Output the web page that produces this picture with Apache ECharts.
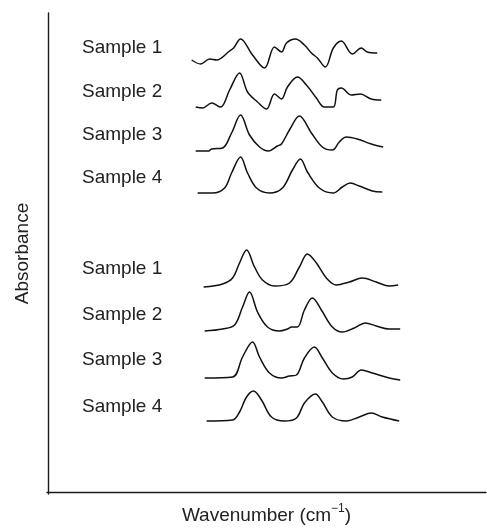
<!DOCTYPE html>
<html>
<head>
<meta charset="utf-8">
<script src="https://cdn.jsdelivr.net/npm/echarts@6/dist/echarts.min.js"></script>
<style>html,body{margin:0;padding:0;background:#fff;}#c{width:487px;height:529px;}</style>
</head>
<body>
<div id="c"></div>
<script>
// Labels
const sampleLabels = ['Sample 1','Sample 2','Sample 3','Sample 4','Sample 1','Sample 2','Sample 3','Sample 4'];
const xAxisTitle = 'Wavenumber (cm';
const yAxisTitle = 'Absorbance';

// Spectra: [wavenumber position, absorbance + offset] (arbitrary units)
const topSample1 = [[144,432],[153,428],[162,433],[169,432],[182,441],[186,444],[193,453],[205,437],[217,424],[227,445],[234,440],[239,449],[248,453],[257,447],[264,439],[270,434],[278,425],[286,444],[294,451],[305,438],[314,444],[320,440],[330,439]];
const topSample2 = [[148,385],[155,384],[164,389],[173,385],[182,402],[192,419],[200,400],[210,390],[219,383],[227,398],[234,393],[240,405],[250,415],[259,407],[269,394],[277,385],[286,385],[290,402],[294,404],[304,397],[313,398],[324,393],[334,392]];
const topSample3 = [[148,341],[161,341],[164,343],[175,344],[184,359],[193,377],[202,357],[212,345],[221,341],[230,346],[234,348],[242,362],[252,376],[264,359],[275,345],[285,342],[292,350],[299,355],[310,353],[324,348],[336,345]];
const topSample4 = [[150,299],[165,299],[177,304],[184,319],[193,335],[200,319],[209,304],[222,299],[235,304],[245,322],[253,333],[260,320],[272,304],[286,299],[295,305],[303,309],[312,306],[325,301],[335,300]];
const botSample1 = [[156,205],[175,208],[185,214],[192,229],[199,242],[207,225],[215,212],[227,206],[242,209],[252,225],[260,238],[269,229],[279,214],[289,207],[302,210],[315,214],[329,210],[342,206],[351,207]];
const botSample2 = [[157,161],[175,163],[187,167],[195,185],[202,200],[210,180],[220,165],[232,161],[240,163],[244,165],[250,165],[257,182],[265,194],[274,182],[285,165],[295,160],[307,164],[318,169],[329,166],[342,163],[353,163]];
const botSample3 = [[157,114],[185,115],[195,135],[205,150],[212,135],[222,119],[234,114],[242,116],[249,117],[257,134],[267,145],[275,134],[285,119],[296,113],[305,115],[314,122],[325,119],[342,114],[353,112]];
const botSample4 = [[159,71],[185,72],[192,80],[199,95],[206,101],[214,92],[224,75],[237,71],[249,74],[257,89],[268,98],[275,90],[285,75],[299,71],[312,75],[324,79],[335,75],[352,71]];

const spectra = [topSample1, topSample2, topSample3, topSample4, botSample1, botSample2, botSample3, botSample4];
const labelY = [48, 92, 135, 178, 269, 315, 360, 407];

const chart = echarts.init(document.getElementById('c'));
const FONT = '"Liberation Sans", Arial, Helvetica, sans-serif';
const option = {
  animation: false,
  grid: {left: 47, right: 1, top: 13, bottom: 35, outerBoundsMode: 'none', containLabel: false},
  xAxis: {
    type: 'value', min: -1, max: 439,
    axisLine: {show: true, lineStyle: {color: '#1a1a1a', width: 1.4}},
    axisTick: {show: false}, axisLabel: {show: false}, splitLine: {show: false},
    name: '{a|' + xAxisTitle + '}{s|−1}{a|)}',
    nameLocation: 'middle', nameGap: 9,
    nameTextStyle: {
      rich: {
        a: {fontFamily: FONT, fontSize: 19, color: '#222', lineHeight: 22, verticalAlign: 'bottom'},
        s: {fontFamily: FONT, fontSize: 12, color: '#222', lineHeight: 22, verticalAlign: 'top'}
      }
    }
  },
  yAxis: {
    type: 'value', min: -2, max: 479,
    axisLine: {show: true, lineStyle: {color: '#1a1a1a', width: 1.4}},
    axisTick: {show: false}, axisLabel: {show: false}, splitLine: {show: false},
    name: yAxisTitle, nameLocation: 'middle', nameGap: 15, nameRotate: 90,
    nameTextStyle: {fontFamily: FONT, fontSize: 19, color: '#222'}
  },
  graphic: sampleLabels.map((t, i) => ({
    type: 'text', x: 82, y: labelY[i],
    style: {text: t, font: '19px ' + FONT, fill: '#222', verticalAlign: 'middle', align: 'left'}
  })),
  series: spectra.map((d, i) => ({
    type: 'line', data: d, smooth: 0.35, symbol: 'none',
    lineStyle: {color: '#111', width: 1.5}
  }))
};
chart.setOption(option);
</script>
</body>
</html>
